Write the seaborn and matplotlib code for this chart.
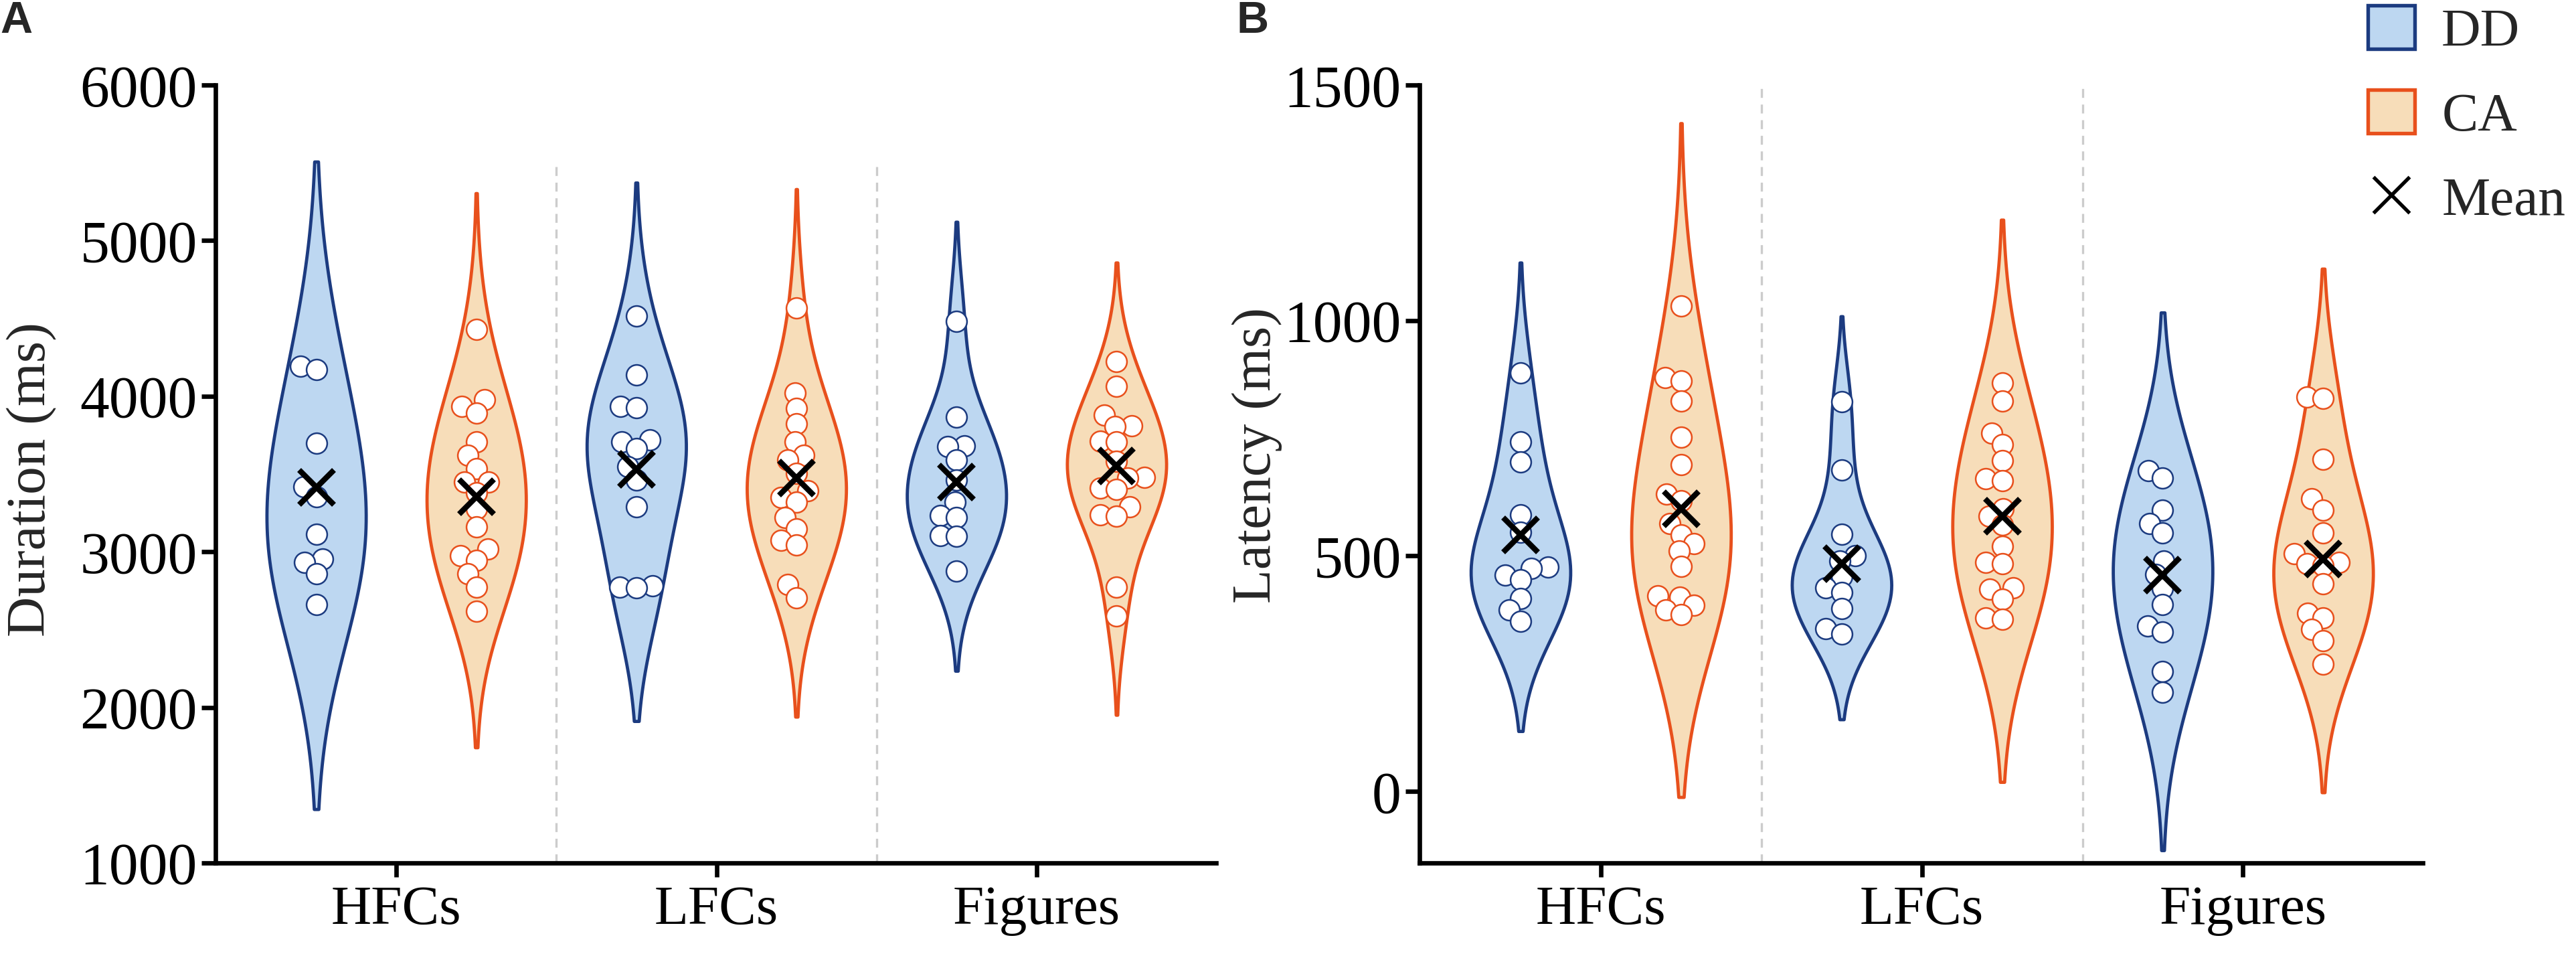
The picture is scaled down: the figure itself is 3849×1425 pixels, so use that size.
import numpy as np
import pandas as pd
import matplotlib
matplotlib.use("Agg")
import matplotlib.pyplot as plt
import seaborn as sns
from matplotlib.patches import Patch
from matplotlib.lines import Line2D

# ---- data ----
categories = ["HFCs", "LFCs", "Figures"]
groups = ["DD", "CA"]

# A: fixation duration (ms)
dur_hfcs_dd = [4194, 4172, 3699, 3420, 3355, 3112, 2953, 2932, 2860, 2660]
dur_hfcs_ca = [4431, 3979, 3936, 3893, 3707, 3621, 3534, 3448, 3448, 3380,
               3276, 3161, 3018, 2975, 2947, 2860, 2773, 2617]
dur_lfcs_dd = [4517, 4137, 3935, 3925, 3720, 3708, 3663, 3549, 3463, 3290,
               2780, 2774, 2768]
dur_lfcs_ca = [4567, 4022, 3922, 3821, 3707, 3621, 3592, 3506, 3391, 3348,
               3319, 3219, 3147, 3075, 3046, 2789, 2704]
dur_fig_dd = [4481, 3864, 3680, 3676, 3592, 3463, 3319, 3233, 3219, 3104,
              3100, 2875]
dur_fig_ca = [4223, 4065, 3879, 3810, 3805, 3710, 3705, 3580, 3480, 3475,
              3408, 3402, 3290, 3236, 3230, 2774, 2588]
dur_mean_dd = [3415, 3530, 3450]
dur_mean_ca = [3355, 3475, 3550]

# B: first fixation latency (ms)
lat_hfcs_dd = [889, 742, 699, 588, 550, 476, 474, 459, 449, 410, 386, 362]
lat_hfcs_ca = [1031, 879, 872, 829, 752, 694, 631, 617, 569, 545, 526, 511,
               478, 415, 412, 396, 386, 376]
lat_lfcs_dd = [827, 683, 546, 501, 490, 457, 433, 423, 389, 345, 335]
lat_lfcs_ca = [868, 829, 761, 736, 702, 664, 660, 600, 585, 566, 521, 487,
               483, 433, 430, 408, 369, 366]
lat_fig_dd = [681, 666, 598, 569, 549, 490, 461, 431, 397, 352, 338, 255, 211]
lat_fig_ca = [838, 835, 706, 622, 598, 549, 505, 486, 484, 480, 441, 378,
              368, 344, 320, 270]
lat_mean_dd = [545, 483, 460]
lat_mean_ca = [600, 585, 494]

# kernel bandwidths (ms) so the violin tails reach where they do in the figure
dur_bw_dd = [657, 428, 320]
dur_bw_ca = [437, 382, 318]
lat_bw_dd = [117, 91, 168]
lat_bw_ca = [194, 173, 136]

# ---- style ----
fill = {"DD": "#bdd7f1", "CA": "#f7ddb9"}
edge = {"DD": "#1c3b80", "CA": "#e8501c"}
dodge = {"DD": -0.25, "CA": 0.25}
point_size = 7.4     # drawn marker diameter (pt)
swarm_size = 5.0     # diameter used for the swarm layout, so circles overlap a bit

sns.set_style("ticks")
plt.rcParams["font.family"] = ["Liberation Serif", "DejaVu Serif"]
plt.rcParams["axes.linewidth"] = 1.6
plt.rcParams["xtick.major.width"] = 1.6
plt.rcParams["ytick.major.width"] = 1.6
plt.rcParams["xtick.major.size"] = 5
plt.rcParams["ytick.major.size"] = 5
plt.rcParams["xtick.color"] = "black"
plt.rcParams["ytick.color"] = "black"
plt.rcParams["axes.edgecolor"] = "black"

swarms = []


def draw_panel(ax, values, means, bws, ylim, yticks, ylabel, label_xy, div_top):
    for ci in range(len(categories)):
        for g in groups:
            vals = np.asarray(values[g][ci], dtype=float)
            pos = ci + dodge[g]
            df = pd.DataFrame({"x": np.full(len(vals), pos), "y": vals})
            sns.violinplot(data=df, x="x", y="y", native_scale=True, orient="x",
                           width=0.31, color=fill[g], linecolor=edge[g],
                           linewidth=1.15, inner=None, cut=2, saturation=1,
                           bw_method=bws[g][ci] / vals.std(ddof=1),
                           density_norm="width", ax=ax)
            sns.swarmplot(data=df, x="x", y="y", native_scale=True, orient="x",
                          color="white", edgecolor=edge[g], linewidth=0.6,
                          size=swarm_size, ax=ax, zorder=3)
            swarms.append(ax.collections[-1])
            ax.plot(pos, means[g][ci], "x", color="black", ms=12.5, mew=2.0,
                    zorder=5)

    for d in [0.5, 1.5]:
        ax.axvline(d, ymin=0, ymax=div_top, color="#cccccc", lw=0.8,
                   ls=(0, (4, 3)), zorder=0)

    ax.set_xlim(-0.565, 2.56)
    ax.set_ylim(*ylim)
    ax.set_xticks(range(len(categories)), categories, fontsize=20)
    ax.set_yticks(yticks)
    ax.tick_params(axis="y", labelsize=21, pad=1.5)
    ax.tick_params(axis="x", pad=3)
    ax.set_xlabel("")
    ax.set_ylabel(ylabel, fontsize=20)
    ax.yaxis.set_label_coords(*label_xy)
    sns.despine(ax=ax)


fig = plt.figure(figsize=(12.833, 4.75), dpi=300)
ax_a = fig.add_axes([0.0836, 0.0954, 0.3883, 0.8154])
ax_b = fig.add_axes([0.5509, 0.0954, 0.3894, 0.8154])

draw_panel(ax_a,
           {"DD": [dur_hfcs_dd, dur_lfcs_dd, dur_fig_dd],
            "CA": [dur_hfcs_ca, dur_lfcs_ca, dur_fig_ca]},
           {"DD": dur_mean_dd, "CA": dur_mean_ca},
           {"DD": dur_bw_dd, "CA": dur_bw_ca},
           (1000, 6000), [1000, 2000, 3000, 4000, 5000, 6000],
           "Duration (ms)", (-0.158, 0.493), 0.9)

draw_panel(ax_b,
           {"DD": [lat_hfcs_dd, lat_lfcs_dd, lat_fig_dd],
            "CA": [lat_hfcs_ca, lat_lfcs_ca, lat_fig_ca]},
           {"DD": lat_mean_dd, "CA": lat_mean_ca},
           {"DD": lat_bw_dd, "CA": lat_bw_ca},
           (-152, 1500), [0, 500, 1000, 1500],
           "Latency (ms)", (-0.137, 0.524), 1.0)

for txt, x in [("A", 0.0), ("B", 0.48)]:
    fig.text(x, 0.999, txt, ha="left", va="top", fontsize=16,
             fontweight="bold", family=["Liberation Sans", "DejaVu Sans"])

handles = [Patch(facecolor=fill["DD"], edgecolor=edge["DD"], lw=1.3),
           Patch(facecolor=fill["CA"], edgecolor=edge["CA"], lw=1.3),
           Line2D([], [], marker="x", ls="none", color="black", ms=13, mew=1.3)]
fig.legend(handles, ["DD", "CA", "Mean"], loc="upper left",
           bbox_to_anchor=(0.917, 1.0), frameon=False, fontsize=19.5,
           handlelength=0.85, handleheight=0.85, handletextpad=0.5,
           labelspacing=0.6, borderpad=0.1, borderaxespad=0)

# lay the swarms out once with the small size, then freeze them and
# draw the circles at full size (the original packs them with some overlap)
fig.canvas.draw()
for coll in swarms:
    coll.__dict__.pop("draw", None)
    coll.set_sizes([point_size ** 2])

fig.savefig("out.png", dpi=300)
